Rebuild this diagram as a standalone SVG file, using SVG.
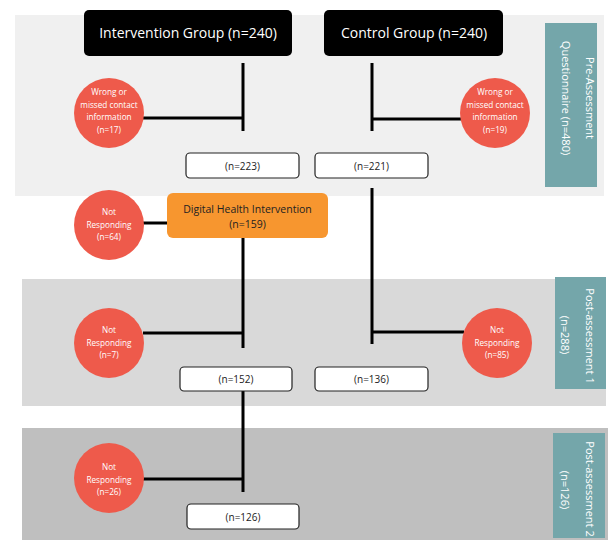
<svg xmlns="http://www.w3.org/2000/svg" width="608" height="540" viewBox="0 0 608 540">
<style>
.t{font-family:"Open Sans","Liberation Sans",sans-serif;}
.head{fill:#000;}
.headt{fill:#fff;font-size:14px;text-anchor:middle;}
.circ{fill:#ee5a4b;}
.ct{fill:#fff;font-size:8.2px;text-anchor:middle;}
.box{fill:#fff;stroke:#222;stroke-width:1.2;}
.bt{fill:#222;font-size:10px;text-anchor:middle;}
.side{fill:#74a6aa;}
.st{fill:#fff;font-size:11px;text-anchor:middle;}
.ln{stroke:#000;stroke-width:3;fill:none;}
</style>
<rect x="15" y="15" width="589" height="181" fill="#f0f0f0"/>
<rect x="22" y="279" width="584" height="127" fill="#d9d9d9"/>
<rect x="22" y="428" width="586" height="112" fill="#bfbfbf"/>

<g id="side-pre">
<rect class="side" x="545" y="23" width="52" height="164"/>
<text class="t st" transform="rotate(90 590 98)" x="590" y="102">Pre-Assessment</text>
<text class="t st" transform="rotate(90 566 98)" x="566" y="102">Questionnaire (n=480)</text>
</g>
<g id="side-post1">
<rect class="side" x="555" y="277" width="51" height="112"/>
<text class="t st" transform="rotate(90 590 336)" x="590" y="340">Post-assessment 1</text>
<text class="t st" transform="rotate(90 565 335)" x="565" y="339">(n=288)</text>
</g>
<g id="side-post2">
<rect class="side" x="553" y="433" width="52" height="105"/>
<text class="t st" transform="rotate(90 590 489)" x="590" y="493">Post-assessment 2</text>
<text class="t st" transform="rotate(90 565 490)" x="565" y="494">(n=126)</text>
</g>

<g id="connectors">
<path class="ln" d="M243 63V131M143 118H243"/>
<path class="ln" d="M372 63V131M372 119H461"/>
<path class="ln" d="M372 188V344M372 332H464"/>
<path class="ln" d="M143 223H167"/>
<path class="ln" d="M243 238V348M143 333H243"/>
<path class="ln" d="M243 391V492M143 479H243"/>
</g>

<g id="intervention">
<rect class="head" x="84" y="10" width="208" height="46" rx="5"/>
<text class="t headt" x="188" y="38">Intervention Group (n=240)</text>
</g>
<g id="control">
<rect class="head" x="324" y="10" width="179" height="46" rx="5"/>
<text class="t headt" x="414" y="38">Control Group (n=240)</text>
</g>

<g id="wrong17">
<circle class="circ" cx="109" cy="113" r="35"/>
<text class="t ct"><tspan x="109" y="95">Wrong or</tspan><tspan x="109" y="107.5">missed contact</tspan><tspan x="109" y="120">information</tspan><tspan x="109" y="132.5">(n=17)</tspan></text>
</g>
<g id="wrong19">
<circle class="circ" cx="495" cy="113" r="35"/>
<text class="t ct"><tspan x="495" y="95">Wrong or</tspan><tspan x="495" y="107.5">missed contact</tspan><tspan x="495" y="120">information</tspan><tspan x="495" y="132.5">(n=19)</tspan></text>
</g>

<g id="n223">
<rect class="box" x="186" y="153" width="113" height="25" rx="4"/>
<text class="t bt" x="242.5" y="169.5">(n=223)</text>
</g>
<g id="n221">
<rect class="box" x="315" y="153" width="113" height="25" rx="4"/>
<text class="t bt" x="371.5" y="169.5">(n=221)</text>
</g>

<g id="digital">
<rect x="167" y="193" width="161" height="45" rx="6" fill="#f7962f"/>
<text class="t" font-size="10.5" fill="#222" text-anchor="middle"><tspan x="247.5" y="213">Digital Health Intervention</tspan><tspan x="247.5" y="228">(n=159)</tspan></text>
</g>
<g id="nr64">
<circle class="circ" cx="109" cy="225" r="35"/>
<text class="t ct"><tspan x="109" y="215">Not</tspan><tspan x="109" y="227.5">Responding</tspan><tspan x="109" y="240">(n=64)</tspan></text>
</g>

<g id="nr7">
<circle class="circ" cx="109" cy="343" r="35"/>
<text class="t ct"><tspan x="109" y="333">Not</tspan><tspan x="109" y="345.5">Responding</tspan><tspan x="109" y="358">(n=7)</tspan></text>
</g>
<g id="nr85">
<circle class="circ" cx="497" cy="343" r="35"/>
<text class="t ct"><tspan x="497" y="333">Not</tspan><tspan x="497" y="345.5">Responding</tspan><tspan x="497" y="358">(n=85)</tspan></text>
</g>
<g id="n152">
<rect class="box" x="180" y="367" width="112" height="24" rx="4"/>
<text class="t bt" x="236" y="383">(n=152)</text>
</g>
<g id="n136">
<rect class="box" x="315" y="367" width="113" height="24" rx="4"/>
<text class="t bt" x="371.5" y="383">(n=136)</text>
</g>

<g id="nr26">
<circle class="circ" cx="109" cy="478" r="35"/>
<text class="t ct"><tspan x="109" y="470">Not</tspan><tspan x="109" y="482.5">Responding</tspan><tspan x="109" y="495">(n=26)</tspan></text>
</g>
<g id="n126">
<rect class="box" x="187" y="504" width="112" height="25" rx="4"/>
<text class="t bt" x="243" y="520.5">(n=126)</text>
</g>
</svg>
